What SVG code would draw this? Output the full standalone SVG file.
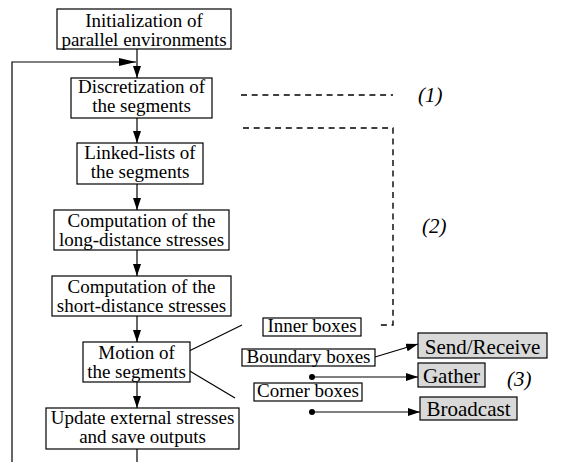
<svg xmlns="http://www.w3.org/2000/svg" width="567" height="462" viewBox="0 0 567 462">
  <style>
    .box { fill: #ffffff; stroke: #000000; stroke-width: 1.2; }
    .gray { fill: #d9d9d9; stroke: #000000; stroke-width: 1.2; }
    .t { font-family: "Liberation Serif", "DejaVu Serif", serif; font-size: 19px; fill: #000000; text-anchor: middle; }
    .tg { font-family: "Liberation Serif", "DejaVu Serif", serif; font-size: 21px; fill: #000000; text-anchor: middle; }
    .lbl { font-family: "Liberation Serif", "DejaVu Serif", serif; font-size: 21px; font-style: italic; fill: #000000; }
    .ln { fill: none; stroke: #000000; stroke-width: 1.2; }
    .dash { fill: none; stroke: #000000; stroke-width: 1.4; stroke-dasharray: 6 4.7; }
  </style>
  <defs>
    <marker id="arr" viewBox="0 0 12 8" refX="12" refY="4" markerWidth="12" markerHeight="8" markerUnits="userSpaceOnUse" orient="auto">
      <path d="M0,0 L12,4 L0,8 Z" fill="#000000"/>
    </marker>
    <marker id="arrLong" viewBox="0 0 17 8" refX="17" refY="4" markerWidth="17" markerHeight="8" markerUnits="userSpaceOnUse" orient="auto">
      <path d="M0,0 L17,4 L0,8 Z" fill="#000000"/>
    </marker>
  </defs>

  <!-- connectors -->
  <g id="connectors">
    <line class="ln" x1="137" y1="49" x2="137" y2="78" marker-end="url(#arr)"/>
    <polyline class="ln" points="12,462 12,62 136,62" marker-end="url(#arrLong)"/>
    <line class="ln" x1="137" y1="118" x2="137" y2="143" marker-end="url(#arr)"/>
    <line class="ln" x1="137" y1="184" x2="137" y2="210" marker-end="url(#arr)"/>
    <line class="ln" x1="137" y1="250" x2="137" y2="276" marker-end="url(#arr)"/>
    <line class="ln" x1="137" y1="316" x2="137" y2="342" marker-end="url(#arr)"/>
    <line class="ln" x1="137" y1="382" x2="137" y2="408" marker-end="url(#arr)"/>
    <line class="ln" x1="137" y1="449" x2="137" y2="462"/>
    <!-- fan-out from the motion step -->
    <line class="ln" x1="185" y1="353" x2="242" y2="325"/>
    <line class="ln" x1="183" y1="367" x2="235" y2="398"/>
    <!-- communication arrows -->
    <line class="ln" x1="375" y1="357" x2="418" y2="344" marker-end="url(#arr)"/>
    <circle cx="312" cy="377" r="3" fill="#000000"/>
    <line class="ln" x1="312" y1="377" x2="418" y2="377" marker-end="url(#arr)"/>
    <circle cx="312" cy="412" r="3" fill="#000000"/>
    <line class="ln" x1="312" y1="412" x2="420" y2="412" marker-end="url(#arr)"/>
    <!-- dashed brackets -->
    <line class="dash" x1="241" y1="95" x2="393" y2="95"/>
    <polyline class="dash" points="243,128 393,128 393,325 378,325"/>
  </g>

  <g id="init">
    <rect class="box" x="57" y="9" width="174" height="40"/>
    <text class="t"><tspan x="144" y="26.5">Initialization of</tspan><tspan x="144" y="45.5">parallel environments</tspan></text>
  </g>
  <g id="discretization">
    <rect class="box" x="71" y="78" width="141" height="40"/>
    <text class="t"><tspan x="141.5" y="93">Discretization of</tspan><tspan x="141.5" y="112">the segments</tspan></text>
  </g>
  <g id="linked-lists">
    <rect class="box" x="77" y="143" width="126" height="41"/>
    <text class="t"><tspan x="140" y="159">Linked-lists of</tspan><tspan x="140" y="178">the segments</tspan></text>
  </g>
  <g id="long-distance">
    <rect class="box" x="54" y="210" width="175" height="40"/>
    <text class="t"><tspan x="141.5" y="227">Computation of the</tspan><tspan x="141.5" y="246">long-distance stresses</tspan></text>
  </g>
  <g id="short-distance">
    <rect class="box" x="52" y="276" width="179" height="40"/>
    <text class="t"><tspan x="141.5" y="293">Computation of the</tspan><tspan x="141.5" y="312">short-distance stresses</tspan></text>
  </g>
  <g id="motion">
    <rect class="box" x="83" y="342" width="107" height="40"/>
    <text class="t"><tspan x="136.5" y="358.5">Motion of</tspan><tspan x="136.5" y="377.5">the segments</tspan></text>
  </g>
  <g id="update">
    <rect class="box" x="46" y="408" width="193" height="41"/>
    <text class="t"><tspan x="142.5" y="424">Update external stresses</tspan><tspan x="142.5" y="443">and save outputs</tspan></text>
  </g>

  <g id="inner-boxes">
    <rect class="box" x="263" y="318" width="98" height="18"/>
    <text class="t" x="312" y="332">Inner boxes</text>
  </g>
  <g id="boundary-boxes">
    <rect class="box" x="242" y="349" width="133" height="17"/>
    <text class="t" x="308.5" y="363">Boundary boxes</text>
  </g>
  <g id="corner-boxes">
    <rect class="box" x="254" y="383" width="108" height="18"/>
    <text class="t" x="308" y="397">Corner boxes</text>
  </g>

  <g id="send-receive">
    <rect class="gray" x="418" y="333" width="129" height="25"/>
    <text class="tg" x="482.5" y="354">Send/Receive</text>
  </g>
  <g id="gather">
    <rect class="gray" x="418" y="363" width="67" height="24"/>
    <text class="tg" x="451.5" y="383">Gather</text>
  </g>
  <g id="broadcast">
    <rect class="gray" x="420" y="397" width="97" height="23"/>
    <text class="tg" x="468.5" y="416">Broadcast</text>
  </g>

  <g id="labels">
    <text class="lbl" x="418" y="102">(1)</text>
    <text class="lbl" x="422" y="233">(2)</text>
    <text class="lbl" x="507" y="386">(3)</text>
  </g>
</svg>
